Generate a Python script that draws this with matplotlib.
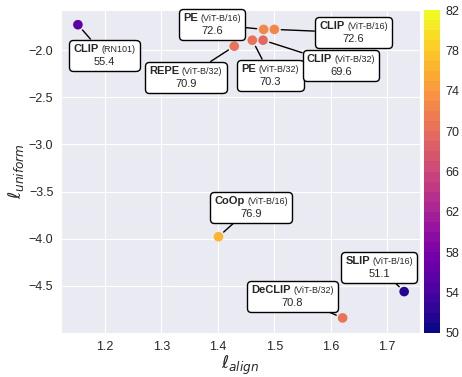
import matplotlib
matplotlib.use("Agg")
import matplotlib.pyplot as plt
import seaborn as sns
from matplotlib.offsetbox import TextArea, HPacker, VPacker, AnnotationBbox

sns.set_style("darkgrid")
plt.rcParams['font.family'] = ['Liberation Sans', 'DejaVu Sans']
plt.rcParams['mathtext.fontset'] = 'dejavusans'

# model names, backbones, alignment / uniformity and accuracy
names = ["CLIP", "REPE", "PE", "CLIP", "PE", "CLIP", "CoOp", "DeCLIP", "SLIP"]
backbones = ["RN101", "ViT-B/32", "ViT-B/16", "ViT-B/16", "ViT-B/32",
             "ViT-B/32", "ViT-B/16", "ViT-B/32", "ViT-B/16"]
l_align = [1.152, 1.429, 1.481, 1.500, 1.461, 1.480, 1.401, 1.621, 1.730]
l_uniform = [-1.73, -1.958, -1.78, -1.78, -1.894, -1.894, -3.978, -4.839, -4.56]
acc = [55.4, 70.9, 72.6, 72.6, 70.3, 69.6, 76.9, 70.8, 51.1]

# label box centres (data coords)
label_pos = [(1.199, -2.053), (1.343, -2.291), (1.390, -1.725), (1.640, -1.815),
             (1.493, -2.265), (1.618, -2.159), (1.459, -3.668), (1.532, -4.611),
             (1.686, -4.304)]

fig = plt.figure(figsize=(4.62, 3.77), dpi=100)
ax = fig.add_axes([0.132, 0.117, 0.777, 0.856])
cax = fig.add_axes([0.918, 0.117, 0.035, 0.856])

cmap = plt.get_cmap('plasma', 32)
sc = ax.scatter(l_align, l_uniform, c=acc, cmap=cmap, vmin=50, vmax=82,
                s=48, edgecolors='none', zorder=3)

for n, b, x, y, v, (bx, by) in zip(names, backbones, l_align, l_uniform, acc, label_pos):
    t1 = TextArea(n, textprops=dict(fontsize=8, fontweight='bold'))
    t2 = TextArea("(" + b + ")", textprops=dict(fontsize=6.5))
    row = HPacker(children=[t1, t2], align='baseline', pad=0, sep=2)
    t3 = TextArea(f"{v}", textprops=dict(fontsize=8))
    box = VPacker(children=[row, t3], align='center', pad=0, sep=2)
    ab = AnnotationBbox(box, (x, y), xybox=(bx, by), xycoords='data',
                        boxcoords='data', pad=0.3,
                        bboxprops=dict(boxstyle='round,pad=0.3', fc='white',
                                       ec='black', lw=1),
                        arrowprops=dict(arrowstyle='-', color='black', lw=1,
                                        shrinkA=0, shrinkB=5),
                        zorder=4)
    ax.add_artist(ab)

ax.set_xlim(1.122, 1.758)
ax.set_ylim(-4.998, -1.576)
ax.set_xticks([1.2, 1.3, 1.4, 1.5, 1.6, 1.7])
ax.set_yticks([-2.0, -2.5, -3.0, -3.5, -4.0, -4.5])
ax.tick_params(labelsize=9, pad=2)
ax.set_xlabel(r'$\ell_{align}$', fontsize=12.5, labelpad=1)
ax.set_ylabel(r'$\ell_{uniform}$', fontsize=12.5, labelpad=2)

cbar = fig.colorbar(sc, cax=cax)
cbar.set_ticks([50, 54, 58, 62, 66, 70, 74, 78, 82])
cbar.outline.set_visible(False)
cbar.ax.tick_params(labelsize=9, length=0, pad=4)

plt.savefig('out.png', dpi=100)
